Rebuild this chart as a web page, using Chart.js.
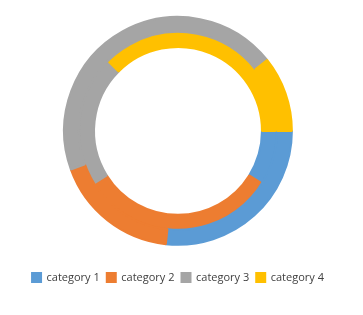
<!DOCTYPE html>
<html>
<head>
<meta charset="utf-8">
<script src="https://cdn.jsdelivr.net/npm/chart.js@4/dist/chart.umd.min.js"></script>
<style>
  html, body { margin: 0; padding: 0; background: #fff; }
  #caja { width: 363px; height: 315px; }
</style>
</head>
<body>
<div id="caja"><canvas id="grafica"></canvas></div>
<script>
// Datos (porcentaje de cada anillo)
var categorias = ['category 1', 'category 2', 'category 3', 'category 4'];
var anilloExterior = [26.7, 17.8, 44.8, 10.7];
var anilloInterior = [8.9, 32.2, 21.4, 37.5];
var colores = ['#5B9BD5', '#ED7D31', '#A5A5A5', '#FFC000'];

var ctx = document.getElementById('grafica').getContext('2d');
var miGrafica = new Chart(ctx, {
    type: 'doughnut',
    data: {
        labels: categorias,
        datasets: [{
            label: 'serie 1',
            data: anilloExterior,
            backgroundColor: colores,
            borderColor: colores,
            borderWidth: 2
        }, {
            label: 'serie 2',
            data: anilloInterior,
            backgroundColor: colores,
            borderColor: colores,
            borderWidth: 2
        }]
    },
    options: {
        responsive: true,
        maintainAspectRatio: false,
        animation: false,
        rotation: 90,
        cutout: '73.7%',
        layout: {
            padding: { left: 0, right: 7, top: 16, bottom: 22 }
        },
        plugins: {
            tooltip: { enabled: false },
            legend: {
                position: 'bottom',
                title: { display: true, text: '', font: { size: 1 }, padding: { top: 18, bottom: 0 } },
                labels: {
                    boxWidth: 9,
                    boxHeight: 9,
                    padding: 7,
                    color: '#404040',
                    font: { family: 'Open Sans', size: 11 }
                }
            }
        }
    }
});
</script>
</body>
</html>
